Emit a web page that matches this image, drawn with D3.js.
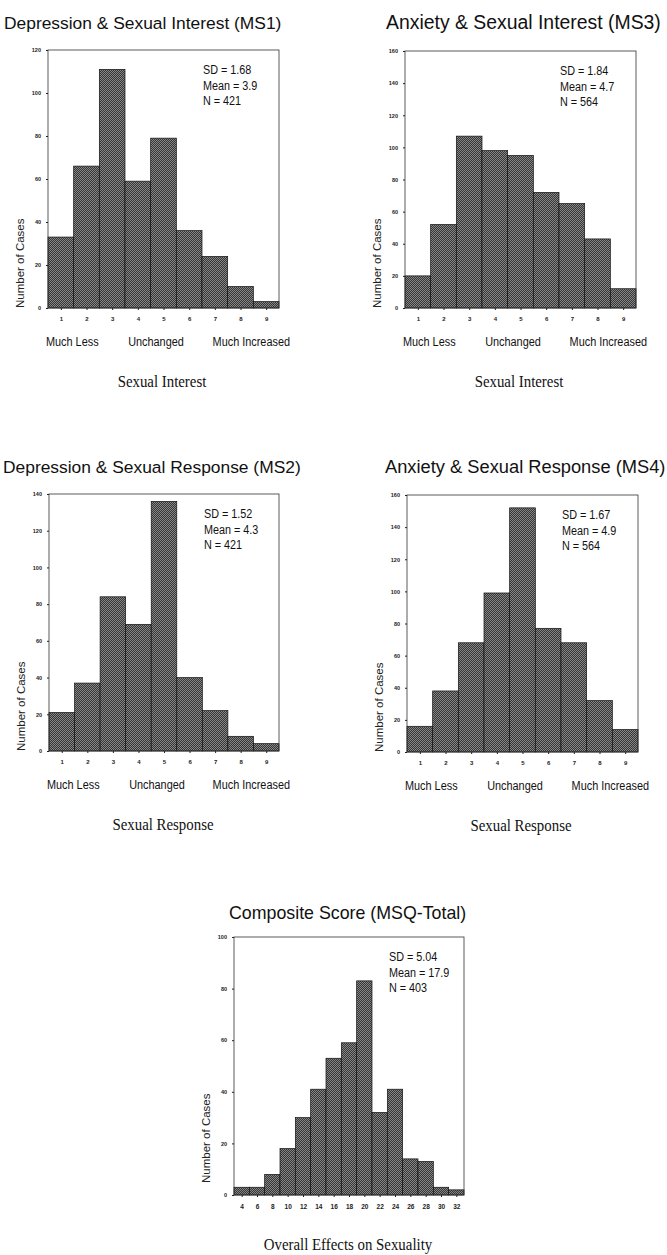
<!DOCTYPE html>
<html>
<head>
<meta charset="utf-8">
<script src="https://cdn.jsdelivr.net/npm/d3@7"></script>
<style>
  body { margin: 0; background: #fff; }
  .tick text { font-family: 'Liberation Sans', Arial, sans-serif; font-weight: bold; fill: #222; }
  .tick line { stroke: #222; }
</style>
</head>
<body>
<div id="chart"></div>
<script>
// values
var scaleScores = [1, 2, 3, 4, 5, 6, 7, 8, 9];
var ms1Counts = [33, 66, 111, 59, 79, 36, 24, 10, 3];
var ms3Counts = [20, 52, 107, 98, 95, 72, 65, 43, 12];
var ms2Counts = [21, 37, 84, 69, 136, 40, 22, 8, 4];
var ms4Counts = [16, 38, 68, 99, 152, 77, 68, 32, 14];
var totalScores = [4, 6, 8, 10, 12, 14, 16, 18, 20, 22, 24, 26, 28, 30, 32];
var totalCounts = [3, 3, 8, 18, 30, 41, 53, 59, 83, 32, 41, 14, 13, 3, 2];

var ticks120 = [0, 20, 40, 60, 80, 100, 120];
var ticks140 = [0, 20, 40, 60, 80, 100, 120, 140];
var ticks160 = [0, 20, 40, 60, 80, 100, 120, 140, 160];
var ticks100 = [0, 20, 40, 60, 80, 100];

var titles = ['Depression & Sexual Interest (MS1)', 'Anxiety & Sexual Interest (MS3)',
  'Depression & Sexual Response (MS2)', 'Anxiety & Sexual Response (MS4)', 'Composite Score (MSQ-Total)'];
var sdValues = ['1.68', '1.84', '1.52', '1.67', '5.04'];
var meanValues = ['3.9', '4.7', '4.3', '4.9', '17.9'];
var nValues = ['421', '564', '421', '564', '403'];
var anchorLabels = ['Much Less', 'Unchanged', 'Much Increased'];
var xTitles = ['Sexual Interest', 'Sexual Interest', 'Sexual Response', 'Sexual Response', 'Overall Effects on Sexuality'];

var sans = "'Liberation Sans', Arial, sans-serif";
var serif = "'Liberation Serif', 'Times New Roman', serif";

// layout of each panel (pixel frame of the plot area)
var panels = [
  { scores: scaleScores, counts: ms1Counts, ticks: ticks120, binW: 1, left: 48, right: 279, top: 50, zero: 308, titleX: 4, titleY: 29, titleSize: 17.4, anchors: true, labelOff: 0 },
  { scores: scaleScores, counts: ms3Counts, ticks: ticks160, binW: 1, left: 405, right: 636, top: 51, zero: 308, titleX: 386, titleY: 29, titleSize: 19.4, anchors: true, labelOff: 0 },
  { scores: scaleScores, counts: ms2Counts, ticks: ticks140, binW: 1, left: 49, right: 279, top: 494, zero: 751, titleX: 3, titleY: 473, titleSize: 17.4, anchors: true, labelOff: 0 },
  { scores: scaleScores, counts: ms4Counts, ticks: ticks160, binW: 1, left: 407, right: 638, top: 495, zero: 752, titleX: 385, titleY: 473, titleSize: 18.3, anchors: true, labelOff: 0 },
  { scores: totalScores, counts: totalCounts, ticks: ticks100, binW: 2, left: 234, right: 464, top: 937, zero: 1195, titleX: 229, titleY: 919, titleSize: 17.8, anchors: false, labelOff: 12 }
];

var svg = d3.select('#chart')
  .append('svg')
  .attr('width', 667)
  .attr('height', 1255);

// checkered fill like the halftone in the scan
var pat = svg.append('defs').append('pattern')
  .attr('id', 'checker')
  .attr('width', 2)
  .attr('height', 2)
  .attr('patternUnits', 'userSpaceOnUse');
pat.append('rect').attr('width', 2).attr('height', 2).attr('fill', '#363636');
pat.append('rect').attr('width', 1).attr('height', 1).attr('fill', '#868686');
pat.append('rect').attr('x', 1).attr('y', 1).attr('width', 1).attr('height', 1).attr('fill', '#868686');

// squeeze text horizontally, the scan uses a narrow face
function condense(sel, k) {
  sel.each(function() {
    var w = this.getComputedTextLength();
    d3.select(this).attr('textLength', w * k).attr('lengthAdjust', 'spacingAndGlyphs');
  });
}

panels.forEach(function(p, i) {
  var g = svg.append('g');
  var half = p.binW / 2;

  var x = d3.scaleLinear()
    .domain([p.scores[0] - half, p.scores[p.scores.length - 1] + half])
    .range([p.left, p.right]);
  var y = d3.scaleLinear()
    .domain([0, p.ticks[p.ticks.length - 1]])
    .range([p.zero, p.top]);

  var data = p.scores.map(function(s, j) { return { score: s, count: p.counts[j] }; });

  g.selectAll('rect.bar')
    .data(data)
    .enter()
    .append('rect')
    .attr('class', 'bar')
    .attr('x', d => x(d.score - half))
    .attr('width', d => x(d.score + half) - x(d.score - half))
    .attr('y', d => y(d.count))
    .attr('height', d => y(0) - y(d.count))
    .attr('fill', 'url(#checker)')
    .attr('stroke', '#111')
    .attr('stroke-width', 0.7);

  // frame
  g.append('rect')
    .attr('x', p.left)
    .attr('y', p.top)
    .attr('width', p.right - p.left)
    .attr('height', p.zero - p.top)
    .attr('fill', 'none')
    .attr('stroke', '#333')
    .attr('stroke-width', 0.8);

  var leftAxis = d3.axisLeft(y).tickValues(p.ticks).tickSize(2).tickPadding(5);
  var bottomAxis = d3.axisBottom(x).tickValues(p.scores).tickSize(2).tickPadding(7);

  var ya = g.append('g').attr('transform', `translate(${p.left}, 0)`).call(leftAxis);
  ya.select('.domain').remove();
  ya.selectAll('text').style('font-size', '5.5px');

  var xa = g.append('g').attr('transform', `translate(0, ${p.zero})`).call(bottomAxis);
  xa.select('.domain').remove();
  xa.selectAll('text').style('font-size', p.binW === 1 ? '6px' : '6.5px');

  // title
  g.append('text')
    .attr('x', p.titleX)
    .attr('y', p.titleY)
    .style('font-family', sans)
    .style('font-size', p.titleSize + 'px')
    .attr('fill', '#111')
    .text(titles[i]);

  // stats box
  var stats = ['SD = ' + sdValues[i], 'Mean = ' + meanValues[i], 'N = ' + nValues[i]];
  g.selectAll('text.stat')
    .data(stats)
    .enter()
    .append('text')
    .attr('class', 'stat')
    .attr('x', p.left + 155)
    .attr('y', (d, j) => p.top + 24 + j * 15.5)
    .style('font-family', sans)
    .style('font-size', '12px')
    .attr('fill', '#111')
    .text(d => d)
    .call(condense, 0.9);

  // y axis label
  g.append('text')
    .attr('transform', `translate(${p.left - 28}, ${p.zero - p.labelOff}) rotate(-90)`)
    .attr('dy', '0.35em')
    .style('font-family', sans)
    .style('font-size', '11.5px')
    .attr('fill', '#222')
    .text('Number of Cases');

  if (p.anchors) {
    var ax = [p.left - 2, p.left + 108, p.right + 11];
    var anc = ['start', 'middle', 'end'];
    g.selectAll('text.anchor')
      .data(anchorLabels)
      .enter()
      .append('text')
      .attr('class', 'anchor')
      .attr('x', (d, j) => ax[j])
      .attr('y', p.zero + 38)
      .attr('text-anchor', (d, j) => anc[j])
      .style('font-family', sans)
      .style('font-size', '12.5px')
      .attr('fill', '#111')
      .text(d => d)
      .call(condense, 0.87);
  }

  g.append('text')
    .attr('x', p.left + 114)
    .attr('y', p.anchors ? p.zero + 79 : 1250)
    .attr('text-anchor', 'middle')
    .style('font-family', serif)
    .style('font-size', '16.5px')
    .attr('fill', '#111')
    .text(xTitles[i])
    .call(condense, 0.9);
});
</script>
</body>
</html>
